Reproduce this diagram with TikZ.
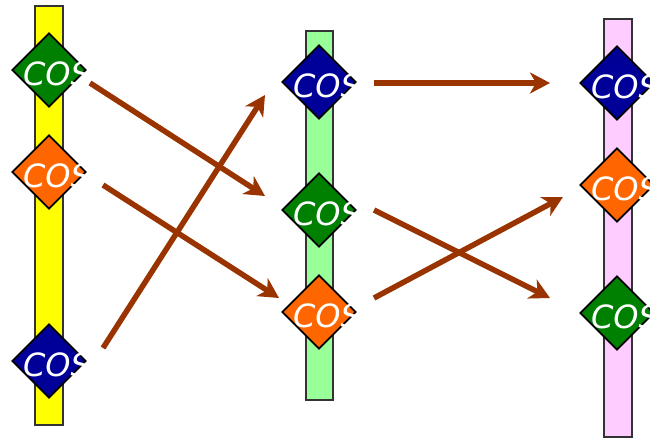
\documentclass[tikz,border=0pt]{standalone}
\usepackage{fontspec}
\setsansfont{DejaVu Sans}
\usetikzlibrary{arrows.meta}
\usetikzlibrary{shapes.geometric}
\definecolor{barY}{HTML}{FFFF00}
\definecolor{barG}{HTML}{99FF99}
\definecolor{barP}{HTML}{FFCCFF}
\definecolor{cosG}{HTML}{008000}
\definecolor{cosO}{HTML}{FF6600}
\definecolor{cosB}{HTML}{000099}
\definecolor{arr}{HTML}{993300}
\tikzset{
  cosbox/.style={diamond,draw=black,line width=1.8pt,inner sep=0pt,minimum width=74pt,minimum height=74pt,fill=#1,
    label={[text=white,font=\sffamily\itshape\fontsize{32}{32}\selectfont,xshift=8pt,yshift=-4pt]center:COS}},
  bar/.style={draw=black!80,line width=1.4pt,fill=#1},
  link/.style={->,color=arr,line width=5.5pt,line cap=butt}
}
\begin{document}
\begin{tikzpicture}[line join=miter,>={Stealth[length=20pt,width=21pt,inset=6pt]},x=1pt,y=-1pt]
\clip(0,0) rectangle (650,439);
\draw [bar=barY] (35,6) rectangle (63,425);
\draw [bar=barG] (306,31) rectangle (333,400);
\draw [bar=barP] (604,19) rectangle (632,437);
% first column
\node [cosbox=cosG] (g1) at (49,70) {};
\node [cosbox=cosO] (o1) at (49,172) {};
\node [cosbox=cosB] (b1) at (49,361) {};
% second column
\node [cosbox=cosB] (b2) at (319,82) {};
\node [cosbox=cosG] (g2) at (319,210) {};
\node [cosbox=cosO] (o2) at (319,312) {};
% third column
\node [cosbox=cosB] (b3) at (617,83) {};
\node [cosbox=cosO] (o3) at (617,185) {};
\node [cosbox=cosG] (g3) at (617,313) {};
% arrow ends
\coordinate (g1out) at (90,83);
\coordinate (o1out) at (103,185);
\coordinate (b1out) at (103,348);
\coordinate (b2in) at (265,95);
\coordinate (g2in) at (265,196);
\coordinate (o2in) at (279,298);
\coordinate (b2out) at (374,83);
\coordinate (g2out) at (374,210);
\coordinate (o2out) at (374,298);
\coordinate (b3in) at (550,83);
\coordinate (o3in) at (563,197);
\coordinate (g3in) at (550,298);
\draw [link] (g1out) -- (g2in);
\draw [link] (o1out) -- (o2in);
\draw [link] (b1out) -- (b2in);
\draw [link] (b2out) -- (b3in);
\draw [link] (g2out) -- (g3in);
\draw [link] (o2out) -- (o3in);
\end{tikzpicture}
\end{document}
